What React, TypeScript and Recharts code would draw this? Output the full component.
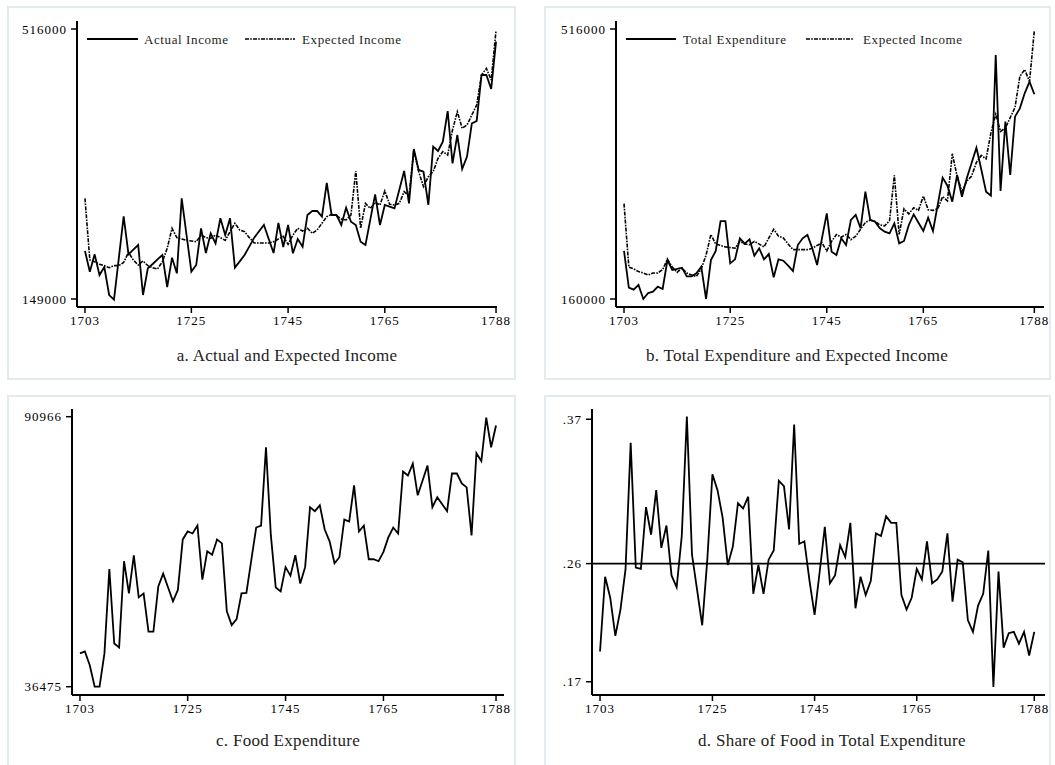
import { LineChart, Line, XAxis, YAxis, ReferenceLine } from 'recharts'

const years = Array.from({ length: 86 }, (_, i) => 1703 + i)

const actualIncome = [
  214200, 186000, 209700, 181600, 192500, 154400, 148100, 204700, 261400, 209700,
  216100, 222400, 154400, 190700, 196600, 202900, 208800, 165300, 205200, 183900,
  285800, 236000, 186200, 195200, 245100, 211500, 238300, 224700, 258700, 236000,
  258700, 191600, 200200, 208800, 220600, 232400, 241000, 249600, 230600, 211500,
  252300, 219700, 249600, 211100, 230600, 220100, 263200, 268600, 268600, 260900,
  306700, 263200, 263200, 249600, 273100, 254100, 249600, 226900, 222400, 256800,
  291300, 249600, 276800, 274500, 272200, 297600, 323000, 279000, 352900, 324400,
  322100, 276800, 356100, 350200, 362900, 404500, 333400, 371900, 325700, 342500,
  387800, 391000, 453500, 453500, 434500, 498800,
]

const expectedIncome = [
  285800, 202000, 199700, 196100, 194300, 191600, 194300, 194300, 198800, 212400,
  202000, 195200, 200700, 194300, 191600, 189800, 199700, 217900, 245100, 232400,
  230600, 228700, 227800, 226900, 236000, 232400, 231500, 236000, 232400, 228700,
  240500, 251900, 242800, 240500, 232400, 225100, 225100, 225100, 225100, 226900,
  230600, 234200, 223300, 236000, 245100, 241400, 245100, 238300, 242800, 251900,
  260900, 264100, 262300, 257700, 256400, 263200, 323000, 245100, 279000, 272200,
  280400, 276800, 295800, 277700, 276800, 279000, 294900, 289500, 351500, 322100,
  301700, 315300, 322100, 340200, 349300, 344700, 378700, 403600, 381000, 385500,
  399100, 412700, 453500, 462500, 446700, 514000,
]

const totalExpenditure = [
  223300, 174900, 172300, 178500, 160000, 167900, 169700, 176300, 173200, 211400,
  198200, 199600, 201300, 189900, 189900, 193800, 202600, 160000, 211400, 223300,
  262800, 262800, 207000, 212300, 240000, 233000, 238700, 217100, 226800, 212300,
  219300, 188600, 212300, 210500, 204000, 196900, 231200, 240000, 244400, 226800,
  204800, 240000, 273000, 222400, 218000, 240000, 231200, 264200, 270800, 253200,
  301500, 264200, 262000, 253200, 248800, 246600, 259800, 233400, 236500, 257600,
  271600, 260600, 249700, 267200, 249700, 284800, 320000, 309400, 288300, 323500,
  294900, 319100, 339300, 359500, 331000, 301500, 296200, 481700, 302400, 393800,
  323500, 400400, 411400, 431200, 446600, 429900,
]

const foodExpenditure = [
  43200, 43600, 40800, 36500, 36500, 43200, 60200, 45200, 44400, 61800,
  55300, 63000, 54500, 55300, 47600, 47600, 56700, 59300, 56500, 53700,
  56000, 66200, 67800, 67400, 69000, 58100, 63800, 63100, 66200, 65400,
  51700, 48900, 50100, 55300, 55400, 62000, 68600, 69000, 84800, 67000,
  56500, 55700, 60600, 58900, 63000, 57300, 60600, 72700, 71900, 73100,
  68200, 65800, 61400, 62600, 70200, 69800, 77100, 67800, 69000, 62200,
  62200, 61800, 63700, 66600, 68600, 67400, 79900, 79100, 81500, 75100,
  78100, 81100, 72700, 74700, 73300, 71900, 79500, 79500, 77500, 76700,
  67000, 83600, 82000, 90800, 84800, 89200,
]

const foodShare = [
  0.193, 0.25, 0.234, 0.205, 0.225, 0.256, 0.352, 0.257, 0.256, 0.303,
  0.282, 0.316, 0.272, 0.289, 0.251, 0.242, 0.281, 0.372, 0.267, 0.24,
  0.213, 0.263, 0.328, 0.316, 0.295, 0.259, 0.273, 0.306, 0.302, 0.311,
  0.237, 0.259, 0.237, 0.263, 0.27, 0.323, 0.319, 0.286, 0.366, 0.275,
  0.277, 0.247, 0.221, 0.254, 0.288, 0.245, 0.251, 0.274, 0.265, 0.291,
  0.226, 0.25, 0.236, 0.247, 0.283, 0.281, 0.296, 0.291, 0.291, 0.236,
  0.225, 0.234, 0.256, 0.248, 0.277, 0.245, 0.248, 0.254, 0.283, 0.231,
  0.263, 0.261, 0.217, 0.208, 0.228, 0.237, 0.27, 0.166, 0.254, 0.196,
  0.207, 0.208, 0.199, 0.208, 0.19, 0.208,
]

const xTicks = [1703, 1725, 1745, 1765, 1788]
const incomeTicks = [149000, 516000]
const expenditureTicks = [160000, 516000]
const foodTicks = [36475, 90966]
const shareTicks = [0.17, 0.26, 0.37]

const data = years.map((year, i) => ({
  year,
  actual: actualIncome[i],
  expected: expectedIncome[i],
  total: totalExpenditure[i],
  food: foodExpenditure[i],
  share: foodShare[i],
}))

const FONT = '"Liberation Serif", "Times New Roman", serif'
const DASH = '4 1.2 1.6 1.2'
const BORDER = '#e3ebef'

const tickStyle = { fill: '#000', fontSize: 13, fontFamily: FONT, letterSpacing: 1 }

type SeriesDef = { key: string; dashed?: boolean }
type LegendDef = { label: string; dashed?: boolean; x1: number; x2: number; tx: number }

interface PanelProps {
  plot: [number, number, number, number] // x0, y0, x1, y1 in page px
  xDomain: [number, number]
  yDomain: [number, number]
  yTicks: number[]
  yFormat?: (v: number) => string
  series: SeriesDef[]
  refY?: number
}

const L = 70
const R = 24
const T = 10
const B = 40

function Panel({ plot, xDomain, yDomain, yTicks, yFormat, series, refY }: PanelProps) {
  const [x0, y0, x1, y1] = plot
  return (
    <div style={{ position: 'absolute', left: x0 - L, top: y0 - T }}>
      <LineChart
        width={x1 - x0 + L + R}
        height={y1 - y0 + T + B}
        data={data}
        margin={{ top: T, right: R, left: 0, bottom: 0 }}
      >
        <XAxis
          dataKey="year"
          type="number"
          domain={xDomain}
          ticks={xTicks}
          allowDataOverflow
          height={B}
          tickSize={6}
          tickMargin={3}
          axisLine={{ stroke: '#000', strokeWidth: 2 }}
          tickLine={{ stroke: '#000', strokeWidth: 1.5 }}
          tick={tickStyle}
          interval={0}
        />
        <YAxis
          type="number"
          domain={yDomain}
          ticks={yTicks}
          allowDataOverflow
          width={L}
          tickSize={6}
          tickMargin={4}
          tickFormatter={yFormat}
          axisLine={{ stroke: '#000', strokeWidth: 2 }}
          tickLine={{ stroke: '#000', strokeWidth: 1.5 }}
          tick={tickStyle}
          interval={0}
        />
        {refY !== undefined && (
          <ReferenceLine y={refY} stroke="#000" strokeWidth={1.7} ifOverflow="extendDomain" />
        )}
        {series.map((s) => (
          <Line
            key={s.key}
            dataKey={s.key}
            type="linear"
            stroke="#000"
            strokeWidth={s.dashed ? 1.6 : 1.8}
            strokeDasharray={s.dashed ? DASH : undefined}
            dot={false}
            activeDot={false}
            isAnimationActive={false}
          />
        ))}
      </LineChart>
    </div>
  )
}

function LegendRow({ items, y }: { items: LegendDef[]; y: number }) {
  return (
    <svg style={{ position: 'absolute', left: 0, top: 0 }} width={1055} height={80}>
      {items.map((it) => (
        <g key={it.label}>
          <line
            x1={it.x1}
            x2={it.x2}
            y1={y}
            y2={y}
            stroke="#000"
            strokeWidth={it.dashed ? 1.6 : 1.8}
            strokeDasharray={it.dashed ? DASH : undefined}
          />
          <text x={it.tx} y={y + 4.5} fontFamily={FONT} fontSize={13} letterSpacing={0.6} fill="#222">
            {it.label}
          </text>
        </g>
      ))}
    </svg>
  )
}

function Caption({ text, cx, cy }: { text: string; cx: number; cy: number }) {
  return (
    <div
      style={{
        position: 'absolute',
        left: cx - 250,
        top: cy - 11,
        width: 500,
        height: 22,
        lineHeight: '22px',
        textAlign: 'center',
        fontFamily: FONT,
        fontSize: 17,
        color: '#222',
        letterSpacing: 0.3,
      }}
    >
      {text}
    </div>
  )
}

function Frame({ x, y, w, h }: { x: number; y: number; w: number; h: number }) {
  return (
    <div
      style={{
        position: 'absolute',
        left: x,
        top: y,
        width: w,
        height: h,
        border: `2px solid ${BORDER}`,
        boxSizing: 'border-box',
      }}
    />
  )
}

const shareFormat = (v: number) => v.toFixed(2).replace(/^0/, '')

export default function App() {
  return (
    <div
      style={{
        position: 'absolute',
        left: 0,
        top: 0,
        width: 1055,
        height: 765,
        background: '#fff',
        overflow: 'hidden',
      }}
    >
      <Frame x={7} y={6} w={509} h={374} />
      <Frame x={544} y={6} w={507} h={374} />
      <Frame x={7} y={395} w={509} h={380} />
      <Frame x={544} y={395} w={507} h={380} />

      <Panel
        plot={[77, 21, 497, 307]}
        xDomain={[1701.35, 1788.2]}
        yDomain={[138126, 526874]}
        yTicks={incomeTicks}
        series={[{ key: 'actual' }, { key: 'expected', dashed: true }]}
      />
      <LegendRow
        y={39}
        items={[
          { label: 'Actual Income', x1: 87, x2: 138, tx: 144 },
          { label: 'Expected Income', dashed: true, x1: 245, x2: 295, tx: 302 },
        ]}
      />
      <Caption text="a. Actual and Expected Income" cx={287} cy={356} />

      <Panel
        plot={[616, 21, 1044, 307]}
        xDomain={[1701.34, 1790.0]}
        yDomain={[149452, 526548]}
        yTicks={expenditureTicks}
        series={[{ key: 'total' }, { key: 'expected', dashed: true }]}
      />
      <LegendRow
        y={39}
        items={[
          { label: 'Total Expenditure', x1: 626, x2: 676, tx: 683 },
          { label: 'Expected Income', dashed: true, x1: 806, x2: 853, tx: 863 },
        ]}
      />
      <Caption text="b. Total Expenditure and Expected Income" cx={797} cy={356} />

      <Panel
        plot={[72, 409, 504, 695]}
        xDomain={[1701.37, 1789.63]}
        yDomain={[34800, 92520]}
        yTicks={foodTicks}
        series={[{ key: 'food' }]}
      />
      <Caption text="c. Food Expenditure" cx={288} cy={741} />

      <Panel
        plot={[592, 409, 1045, 695]}
        xDomain={[1701.43, 1790.1]}
        yDomain={[0.1599, 0.3778]}
        yTicks={shareTicks}
        yFormat={shareFormat}
        series={[{ key: 'share' }]}
        refY={0.26}
      />
      <Caption text="d. Share of Food in Total Expenditure" cx={832} cy={741} />
    </div>
  )
}
